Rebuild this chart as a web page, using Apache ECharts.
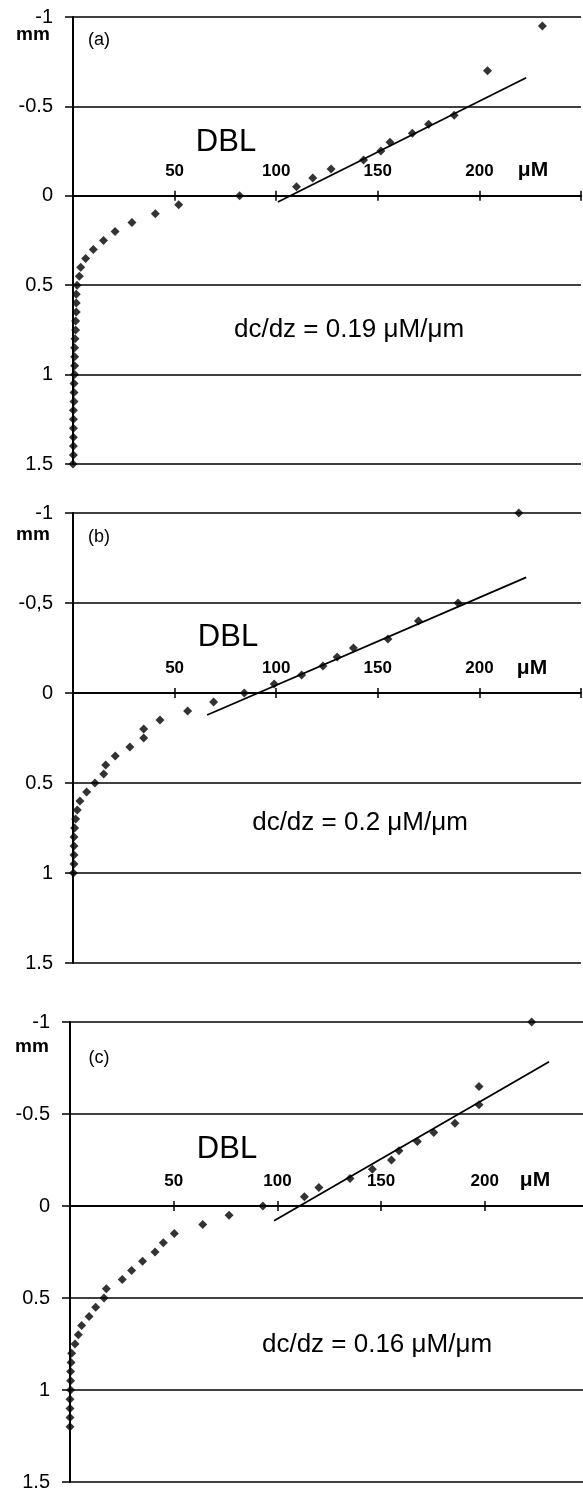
<!DOCTYPE html>
<html>
<head>
<meta charset="utf-8">
<script src="https://cdn.jsdelivr.net/npm/echarts@6/dist/echarts.min.js"></script>
<style>
html,body{margin:0;padding:0;background:#fff;}
#chart{width:583px;height:1492px;}
</style>
</head>
<body>
<div id="chart"></div>
<script>
// ---------- DATA ----------
const xTickLabels = ['', '50', '100', '150', '200', ''];
const yTickLabelsA = ['-1', '-0.5', '0', '0.5', '1', '1.5'];
const yTickLabelsB = ['-1', '-0,5', '0', '0.5', '1', '1.5'];
const yTickLabelsC = ['-1', '-0.5', '0', '0.5', '1', '1.5'];

const panelLabels = ['(a)', '(b)', '(c)'];
const slopeTexts = ['dc/dz = 0.19 μM/μm', 'dc/dz = 0.2 μM/μm', 'dc/dz = 0.16 μM/μm'];
const depthUnit = 'mm';
const concUnit = 'μM';
const dblText = 'DBL';

// Panel (a): concentration (μM) and depth (mm)
const concA = [231, 204, 187.6, 175, 167, 156, 151.5, 143, 127, 118, 110, 82, 52, 40.5, 29, 20.7, 15, 10, 6.2, 3.8, 3.1, 2.0,
  1.6, 1.6, 1.6, 1.3, 1.3, 1.0, 0.8, 0.8, 0.8, 0.8, 0.5, 0.5, 0.5, 0.2, 0.2, 0.2, 0.2, 0.2, 0.2, 0];
const depthA = [-0.95, -0.7, -0.45, -0.4, -0.35, -0.3, -0.25, -0.2, -0.15, -0.1, -0.05, 0, 0.05, 0.1, 0.15, 0.2, 0.25, 0.3, 0.35, 0.4, 0.45, 0.5,
  0.55, 0.6, 0.65, 0.7, 0.75, 0.8, 0.85, 0.9, 0.95, 1.0, 1.05, 1.1, 1.15, 1.2, 1.25, 1.3, 1.35, 1.4, 1.45, 1.5];
const fitConcA = [100.8, 223];
const fitDepthA = [0.035, -0.66];

// Panel (b)
const concB = [219.4, 189.5, 170, 155, 138, 130, 123, 112.5, 99, 84.3, 69.2, 56.4, 42.8, 34.8, 34.8, 28, 20.8, 16.1, 15.1, 10.8,
  6.7, 3.4, 2.1, 1.3, 0.8, 0.5, 0.5, 0.5, 0.5, 0.2];
const depthB = [-1.0, -0.5, -0.4, -0.3, -0.25, -0.2, -0.15, -0.1, -0.05, 0, 0.05, 0.1, 0.15, 0.2, 0.25, 0.3, 0.35, 0.4, 0.45, 0.5,
  0.55, 0.6, 0.65, 0.7, 0.75, 0.8, 0.85, 0.9, 0.95, 1.0];
const fitConcB = [66, 223];
const fitDepthB = [0.122, -0.642];

// Panel (c)
const concC = [222.6, 197.2, 197.2, 185.6, 175.4, 167.5, 158.6, 155, 145.8, 135, 120, 113, 93, 76.7, 64, 50.3, 45, 41, 35, 29.7,
  25.2, 17.5, 16.4, 12.4, 9.2, 5.6, 4, 2.4, 0.8, 0.5, 0.3, 0.3, 0.3, 0, 0, 0, 0];
const depthC = [-1.0, -0.65, -0.55, -0.45, -0.4, -0.35, -0.3, -0.25, -0.2, -0.15, -0.1, -0.05, 0, 0.05, 0.1, 0.15, 0.2, 0.25, 0.3, 0.35,
  0.4, 0.45, 0.5, 0.55, 0.6, 0.65, 0.7, 0.75, 0.8, 0.85, 0.9, 0.95, 1.0, 1.05, 1.1, 1.15, 1.2];
const fitConcC = [98.4, 231];
const fitDepthC = [0.08, -0.784];

// ---------- LAYOUT ----------
const FONT = '"Liberation Sans", Arial, sans-serif';
const Y_MIN = -1, Y_MAX = 1.5, Y_STEP = 0.5;
const panels = [
  { conc: concA, depth: depthA, fx: fitConcA, fy: fitDepthA, yl: yTickLabelsA,
    grid: { left: 73, right: 2, top: 17, height: 447 },
    txt: { lab: [99, 40], mm: [33, 35], dbl: [226, 142], um: [533, 170], slope: [349, 330] } },
  { conc: concB, depth: depthB, fx: fitConcB, fy: fitDepthB, yl: yTickLabelsB,
    grid: { left: 73, right: 2, top: 513, height: 450 },
    txt: { lab: [99, 537], mm: [33, 535], dbl: [228, 637], um: [532, 668], slope: [360, 823] } },
  { conc: concC, depth: depthC, fx: fitConcC, fy: fitDepthC, yl: yTickLabelsC,
    grid: { left: 70, right: -5.5, top: 1022, height: 460 },
    txt: { lab: [99, 1058], mm: [32, 1047], dbl: [227, 1149], um: [535, 1180], slope: [377, 1345] } }
];

const grids = [], xAxes = [], yAxes = [], series = [], graphics = [];

function txt(x, y, text, size, weight) {
  return {
    type: 'text', x: x, y: y, silent: true,
    style: {
      text: text, fill: '#000', fontFamily: FONT, fontSize: size, fontWeight: weight || 'normal',
      textAlign: 'center', align: 'center', textVerticalAlign: 'middle', verticalAlign: 'middle'
    }
  };
}

panels.forEach(function (p, i) {
  grids.push(Object.assign({ containLabel: false, outerBoundsMode: 'none' }, p.grid));
  const yl = p.yl;
  const h = p.grid.height;
  // fraction of the (inverted) depth axis that lies above depth 0
  const zeroFrac = (0 - Y_MIN) / (Y_MAX - Y_MIN);

  yAxes.push({
    type: 'value', gridIndex: i, inverse: true, min: Y_MIN, max: Y_MAX, interval: Y_STEP,
    position: 'left',
    axisLine: { show: true, onZero: false, lineStyle: { color: '#000', width: 2 } },
    axisTick: { show: true, length: 8, lineStyle: { color: '#000', width: 1.5 } },
    axisLabel: {
      color: '#000', fontFamily: FONT, fontSize: 20, margin: 20,
      formatter: function (v) { return yl[Math.round((v - Y_MIN) / Y_STEP)]; }
    },
    splitLine: { show: true, lineStyle: { color: '#000', width: 1.5 } }
  });

  // concentration axis placed on depth 0: labels above, ticks upward
  xAxes.push({
    type: 'value', gridIndex: i, min: 0, max: 250, interval: 50, position: 'top',
    offset: -h * zeroFrac,
    axisLine: { show: true, onZero: false, lineStyle: { color: '#000', width: 1.5 } },
    axisTick: { show: true, length: 5, inside: false, lineStyle: { color: '#000', width: 1.5 } },
    axisLabel: {
      show: true, color: '#000', fontFamily: FONT, fontSize: 17, fontWeight: 'bold', margin: 16,
      formatter: function (v) { return xTickLabels[Math.round(v / 50)]; }
    },
    splitLine: { show: false }
  });
  // twin on depth 0: downward ticks
  xAxes.push({
    type: 'value', gridIndex: i, min: 0, max: 250, interval: 50, position: 'bottom',
    offset: -h * (1 - zeroFrac),
    axisLine: { show: true, onZero: false, lineStyle: { color: '#000', width: 1.5 } },
    axisTick: { show: true, length: 5, inside: false, lineStyle: { color: '#000', width: 1.5 } },
    axisLabel: { show: false },
    splitLine: { show: false }
  });
  series.push({
    type: 'scatter', xAxisIndex: 2 * i, yAxisIndex: i,
    symbol: 'diamond', symbolSize: 9,
    itemStyle: { color: '#000' },
    data: p.conc.map(function (c, k) { return [c, p.depth[k]]; }),
    z: 5
  });
  series.push({
    type: 'line', xAxisIndex: 2 * i, yAxisIndex: i,
    symbol: 'none', lineStyle: { color: '#000', width: 1.8 },
    data: p.fx.map(function (c, k) { return [c, p.fy[k]]; }),
    z: 4
  });
  const t = p.txt;
  graphics.push(txt(t.lab[0], t.lab[1], panelLabels[i], 18));
  graphics.push(txt(t.mm[0], t.mm[1], depthUnit, 19, 'bold'));
  graphics.push(txt(t.dbl[0], t.dbl[1], dblText, 31));
  graphics.push(txt(t.um[0], t.um[1], concUnit, 21, 'bold'));
  graphics.push(txt(t.slope[0], t.slope[1], slopeTexts[i], 26));
});

const chart = echarts.init(document.getElementById('chart'), null, { renderer: 'canvas' });
chart.setOption({
  animation: false,
  backgroundColor: '#fff',
  grid: grids,
  xAxis: xAxes,
  yAxis: yAxes,
  series: series,
  graphic: graphics
});
</script>
</body>
</html>
